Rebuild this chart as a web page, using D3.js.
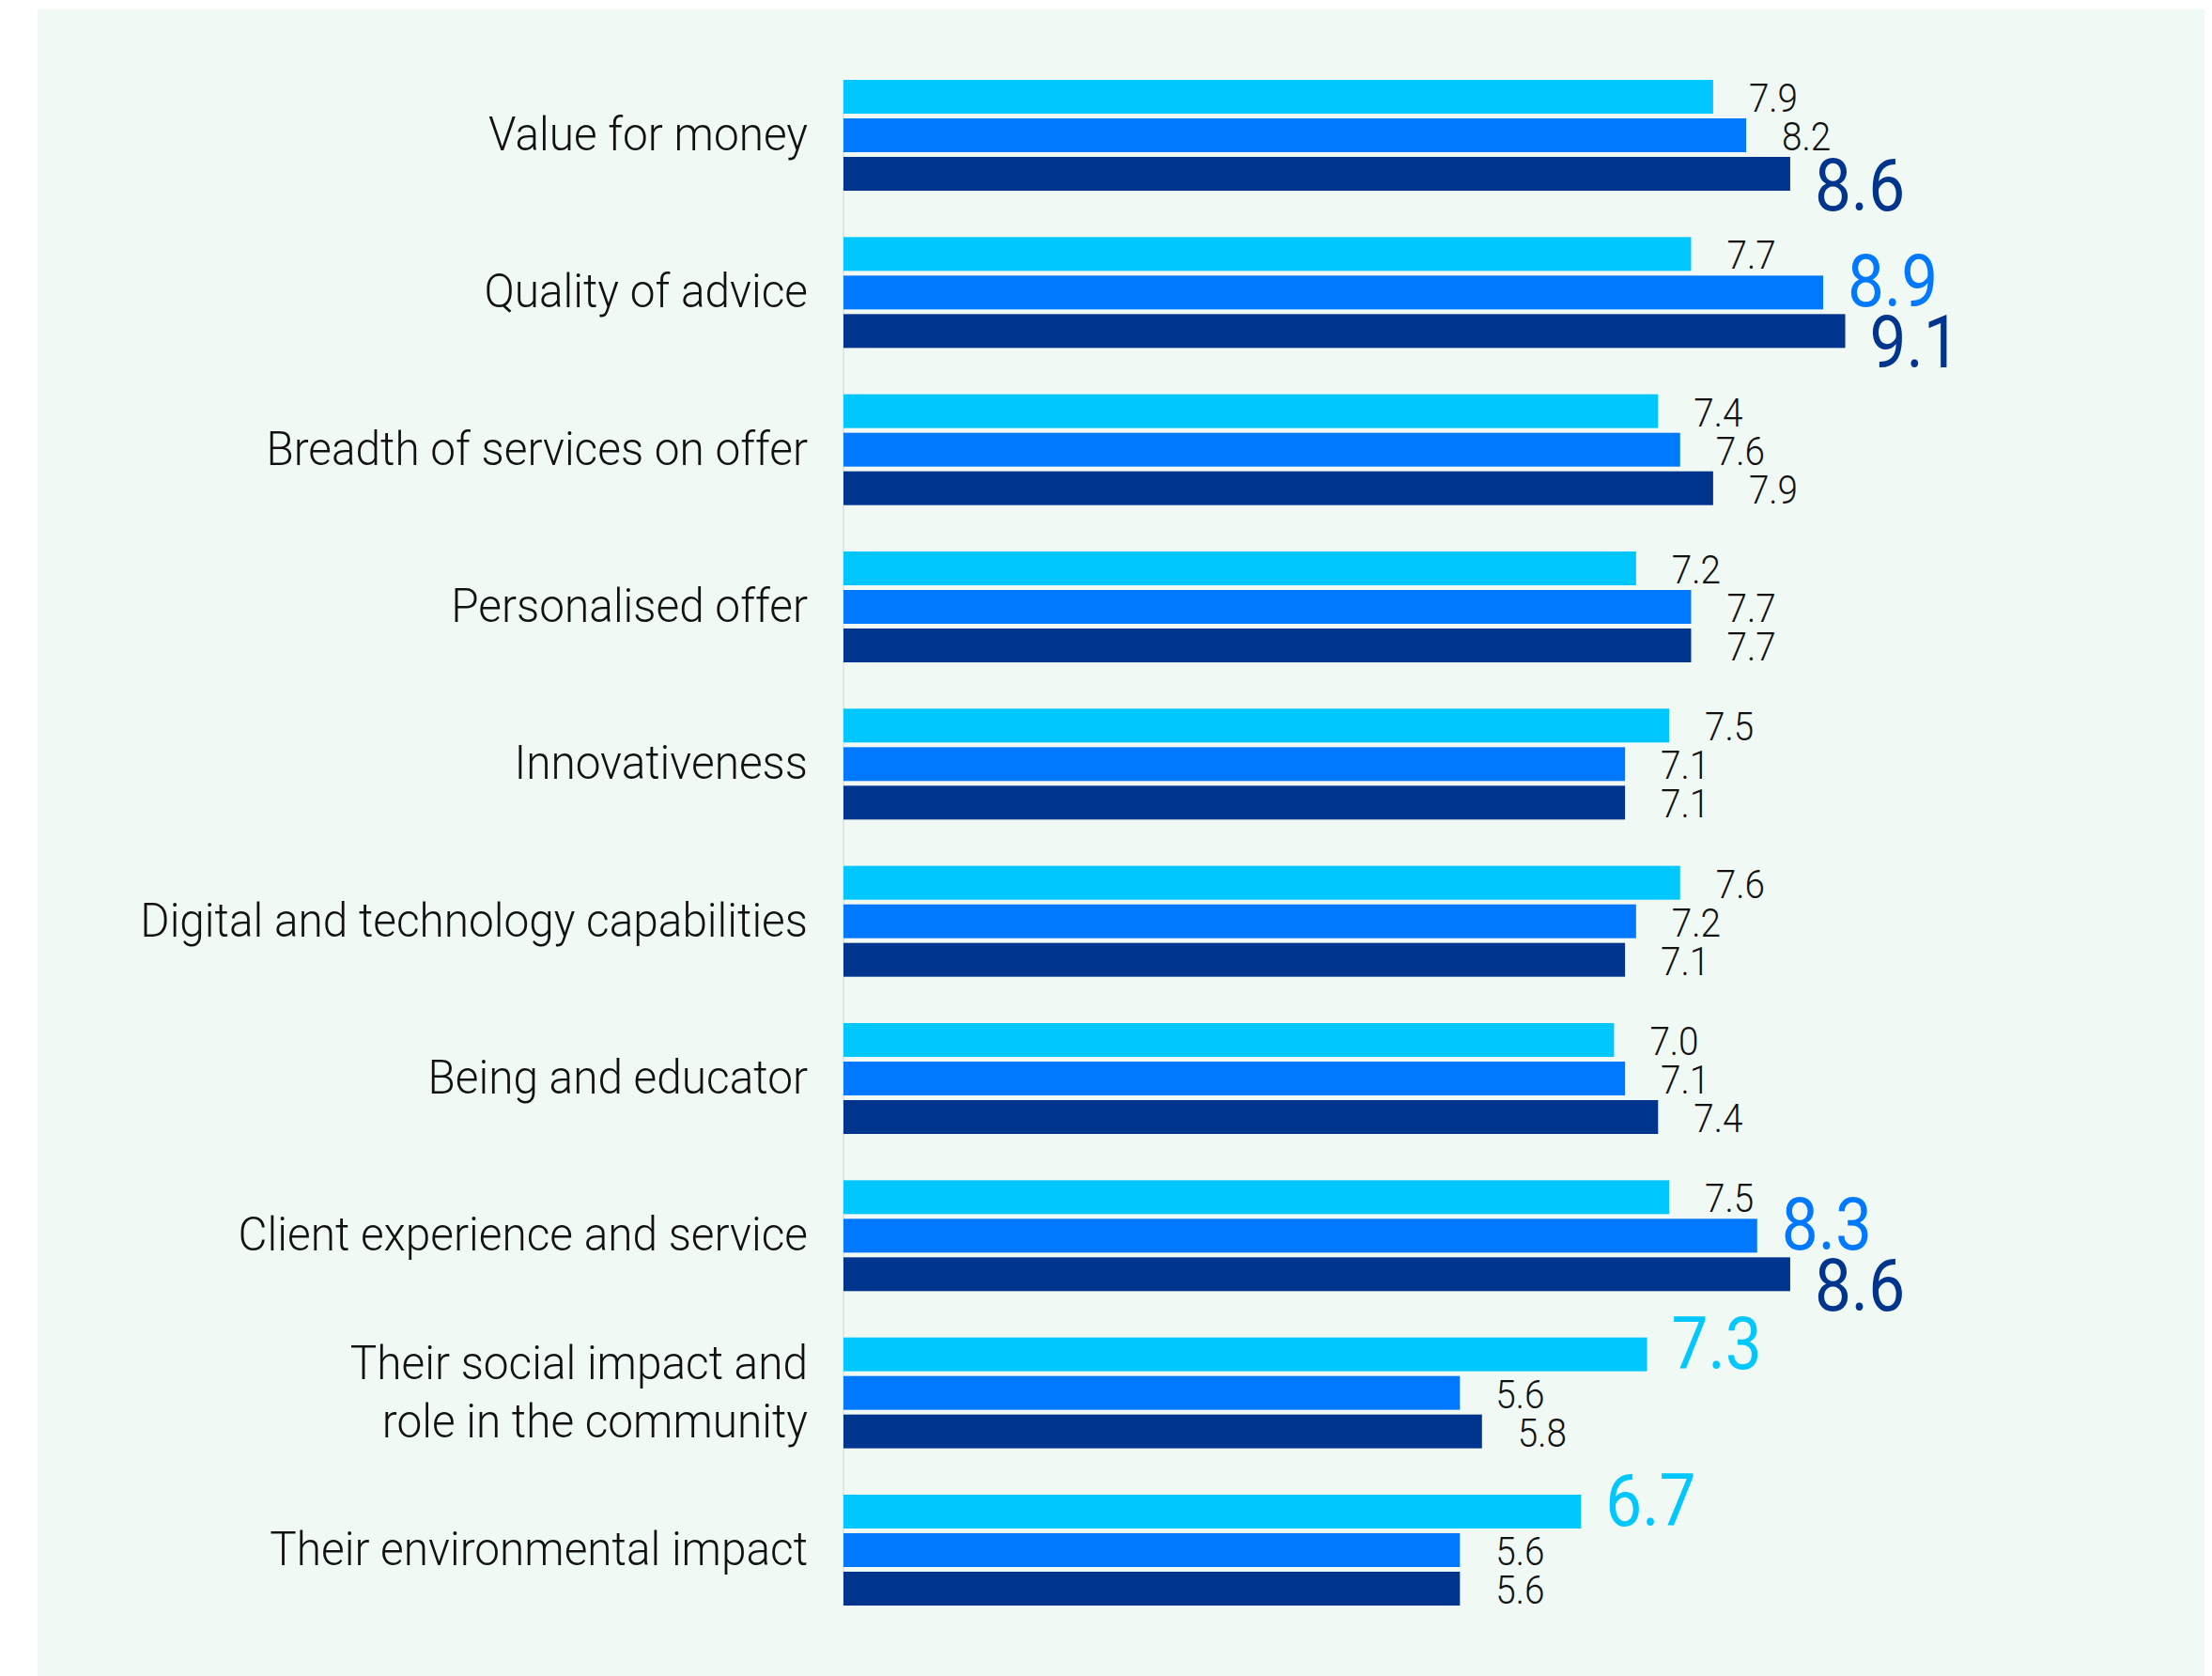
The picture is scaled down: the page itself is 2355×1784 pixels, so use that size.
<!DOCTYPE html>
<html>
<head>
<meta charset="utf-8">
<script src="https://cdn.jsdelivr.net/npm/d3@7"></script>
<style>
  html, body { margin: 0; padding: 0; background: #ffffff; }
  svg { display: block; }
  text { font-family: Roboto, "Noto Sans", sans-serif; }
</style>
</head>
<body>
<svg id="chart"></svg>
<script>
// Attribute scores (0–10) for three respondent groups, one bar per group.
const categories = [
  "Value for money",
  "Quality of advice",
  "Breadth of services on offer",
  "Personalised offer",
  "Innovativeness",
  "Digital and technology capabilities",
  "Being and educator",
  "Client experience and service",
  "Their social impact and\nrole in the community",
  "Their environmental impact"
];

const seriesKeys = ["series1", "series2", "series3"];

const series1 = [7.9, 7.7, 7.4, 7.2, 7.5, 7.6, 7.0, 7.5, 7.3, 6.7];
const series2 = [8.2, 8.9, 7.6, 7.7, 7.1, 7.2, 7.1, 8.3, 5.6, 5.6];
const series3 = [8.6, 9.1, 7.9, 7.7, 7.1, 7.1, 7.4, 8.6, 5.8, 5.6];

// Values called out with a large coloured label: [category index, series key]
const highlighted = [
  [0, "series3"],
  [1, "series2"], [1, "series3"],
  [7, "series2"], [7, "series3"],
  [8, "series1"],
  [9, "series1"]
];

const seriesColors = {
  series1: "#00c8ff",
  series2: "#0079ff",
  series3: "#00358d"
};

const W = 2355, H = 1784;
const margin = { top: 85, left: 898, bottom: 75 };
const plotBottom = H - margin.bottom;

// The typeface is a little wider than the original grotesque; squeeze horizontally.
const condense = 0.9;
const condenseCat = 0.955;

const svg = d3.select("#chart").attr("width", W).attr("height", H);

// Background panel
svg.append("rect")
  .attr("x", 40).attr("y", 10)
  .attr("width", 2307).attr("height", H - 10)
  .attr("fill", "#f1f9f5");

const valuesBySeries = { series1, series2, series3 };
const rows = categories.map((c, i) => ({
  category: c,
  values: seriesKeys.map(k => ({
    key: k,
    value: valuesBySeries[k][i],
    big: highlighted.some(([ci, sk]) => ci === i && sk === k)
  }))
}));

const x = d3.scaleLinear().domain([0, 10]).range([margin.left, margin.left + 1172]);

const y0 = d3.scaleBand()
  .domain(categories)
  .range([margin.top, plotBottom])
  .paddingInner(0.2947)
  .paddingOuter(0);

const y1 = d3.scaleBand()
  .domain(seriesKeys)
  .range([0, y0.bandwidth()])
  .paddingInner(0.122)
  .paddingOuter(0);

// Baseline axis at zero
svg.append("line")
  .attr("x1", x(0)).attr("x2", x(0))
  .attr("y1", margin.top).attr("y2", plotBottom)
  .attr("stroke", "#e2e6e4")
  .attr("stroke-width", 2);

const groups = svg.append("g").selectAll("g.cat")
  .data(rows)
  .join("g")
  .attr("class", "cat")
  .attr("transform", d => `translate(0,${y0(d.category)})`);

groups.selectAll("rect")
  .data(d => d.values)
  .join("rect")
  .attr("x", x(0))
  .attr("y", d => y1(d.key))
  .attr("width", d => x(d.value) - x(0))
  .attr("height", y1.bandwidth())
  .attr("fill", d => seriesColors[d.key]);

// Value labels
groups.selectAll("text.val")
  .data(d => d.values)
  .join("text")
  .attr("class", "val")
  .attr("transform", d => {
    const bottom = y1(d.key) + y1.bandwidth();
    const tx = x(d.value) + (d.big ? 26 : 38);
    let ty = bottom - 2;
    if (d.big) ty = d.key === "series3" ? bottom + 21 : bottom - 3;
    return `translate(${tx},${ty}) scale(${condense},1)`;
  })
  .attr("font-size", d => d.big ? 77 : 43)
  .attr("font-weight", d => d.big ? 400 : 300)
  .attr("fill", d => d.big ? seriesColors[d.key] : "#111111")
  .text(d => d3.format(".1f")(d.value));

// Category labels (right-aligned against the bars)
const catLabels = groups.append("text")
  .attr("class", "cat-label")
  .attr("text-anchor", "end")
  .attr("transform", `translate(${margin.left - 38},0) scale(${condenseCat},1)`)
  .attr("font-size", 50)
  .attr("font-weight", 300)
  .attr("fill", "#111111");

catLabels.each(function(d) {
  const lines = d.category.split("\n");
  const t = d3.select(this);
  const lineGap = 62;
  const center = y0.bandwidth() / 2;
  const capHalf = 16;
  const firstBase = center + capHalf - (lines.length - 1) * lineGap / 2;
  lines.forEach((ln, i) => {
    t.append("tspan")
      .attr("x", 0)
      .attr("y", firstBase + i * lineGap)
      .text(ln);
  });
});
</script>
</body>
</html>
